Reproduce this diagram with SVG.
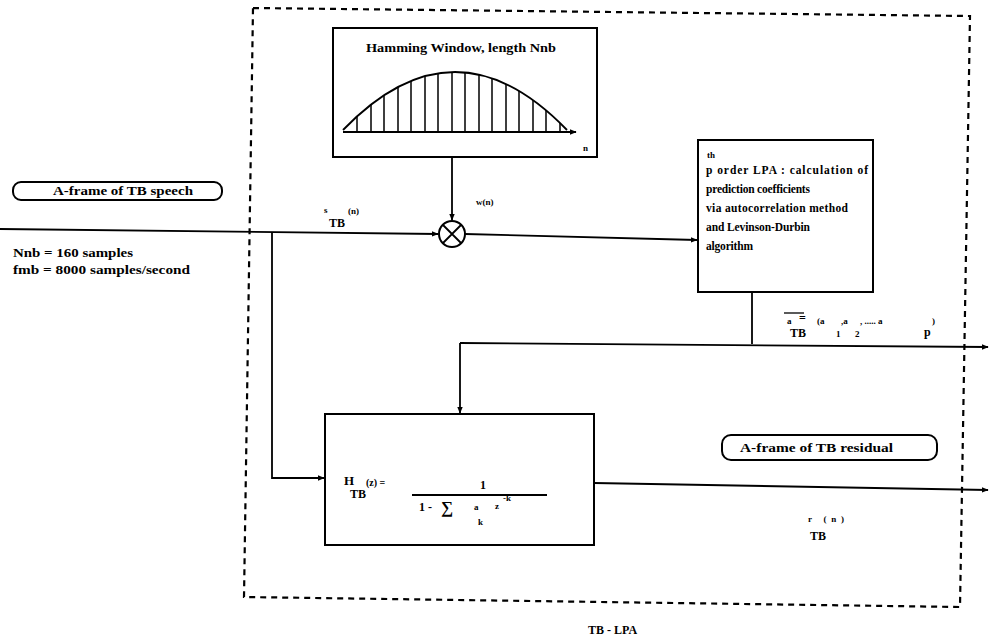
<svg xmlns="http://www.w3.org/2000/svg" width="993" height="642" viewBox="0 0 993 642">
<style>
.ln{stroke:#000;stroke-width:1.8;fill:none}
.bx{stroke:#000;stroke-width:2;fill:#fff}
.t{font-family:"Liberation Serif","Times New Roman",serif;font-weight:bold;font-size:12px;fill:#000}
.s{font-size:9px}
.m{font-size:11.5px}
.dash{stroke:#000;stroke-width:2.2;fill:none;stroke-dasharray:6 5}
</style>
<defs>
<marker id="ar" viewBox="0 0 10 10" refX="9" refY="5" markerWidth="7" markerHeight="7" markerUnits="userSpaceOnUse" orient="auto">
<path d="M0,1 L10,5 L0,9 Z" fill="#000"/>
</marker>
</defs>

<path id="frame" class="dash" d="M253,8 L970,16 L960,607 L244,597 Z"/>

<g id="connectors">
<path class="ln" d="M0,229 L438,234" marker-end="url(#ar)"/>
<path class="ln" d="M452,157 L452,220" marker-end="url(#ar)"/>
<path class="ln" d="M465,234 L697,240" marker-end="url(#ar)"/>
<path class="ln" d="M272,232 L272,478 L324,478" marker-end="url(#ar)"/>
<path class="ln" d="M752,292 L752,344"/>
<path class="ln" d="M460,343 L988,347" marker-end="url(#ar)"/>
<path class="ln" d="M460,343 L460,413" marker-end="url(#ar)"/>
<path class="ln" d="M594,483 L988,490" marker-end="url(#ar)"/>
</g>

<g id="hamming">
<rect class="bx" x="333" y="28" width="264" height="129"/>
<text class="t" x="461" y="52" text-anchor="middle" textLength="190" lengthAdjust="spacingAndGlyphs">Hamming Window, length Nnb</text>
<path class="ln" d="M343,130 Q455,14 567,130"/>
<path class="ln" d="M343,132 L576,132" marker-end="url(#ar)"/>
<path class="ln" style="stroke-width:1.5" d="M357,132V116.4M371,132V104.6M384,132V95.3M398,132V87M411,132V81M425,132V76.2M438,132V73.3M452,132V72M465,132V72.5M479,132V74.7M492,132V78.3M506,132V84M519,132V90.9M533,132V100.1M546,132V110.3M560,132V123"/>
<text class="t s" x="583" y="151">n</text>
</g>

<g id="multiplier">
<circle class="bx" cx="452" cy="234" r="13"/>
<path class="ln" d="M443,225 L461,243 M461,225 L443,243"/>
</g>

<g id="speech-label">
<rect class="bx" x="13" y="182" width="209" height="18" rx="8"/>
<text class="t" x="53" y="195" textLength="140" lengthAdjust="spacingAndGlyphs">A-frame of TB speech</text>
</g>
<text class="t" x="13" y="257" textLength="120" lengthAdjust="spacingAndGlyphs">Nnb = 160 samples</text>
<text class="t" x="13" y="274" textLength="177" lengthAdjust="spacingAndGlyphs">fmb = 8000 samples/second</text>

<g id="sig-labels">
<text class="t s" x="324" y="213">s</text>
<text class="t" x="329" y="227">TB</text>
<text class="t s" x="348" y="214">(n)</text>
<text class="t s" x="476" y="205">w(n)</text>
</g>

<g id="lpa">
<rect class="bx" x="698" y="140" width="175" height="152"/>
<text class="t s" x="707" y="158">th</text>
<text class="t m" x="706" y="174" textLength="162" lengthAdjust="spacing">p  order  LPA : calculation of</text>
<text class="t m" x="706" y="193" textLength="104" lengthAdjust="spacing">prediction coefficients</text>
<text class="t m" x="706" y="212" textLength="142" lengthAdjust="spacing">via autocorrelation method</text>
<text class="t m" x="706" y="231" textLength="104" lengthAdjust="spacing">and Levinson-Durbin</text>
<text class="t m" x="706" y="250" textLength="47" lengthAdjust="spacing">algorithm</text>
</g>

<g id="coef-label">
<path class="ln" style="stroke-width:1.3" d="M784,313 H804"/>
<text class="t s" x="787" y="324">a</text>
<text class="t" x="799" y="322">=</text>
<text class="t" x="790" y="337">TB</text>
<text class="t s" x="817" y="324">(a</text>
<text class="t s" x="836" y="337">1</text>
<text class="t s" x="841" y="324">,a</text>
<text class="t s" x="855" y="337">2</text>
<text class="t s" x="860" y="324">,  .....  a</text>
<text class="t" x="924" y="336">p</text>
<text class="t s" x="932" y="324">)</text>
</g>

<g id="filter">
<rect class="bx" x="325" y="414" width="269" height="131"/>
<text class="t" x="344" y="485" style="font-size:13px">H</text>
<text class="t" x="350" y="498">TB</text>
<text class="t" x="366" y="486" style="font-size:10px">(z) =</text>
<path class="ln" d="M412,495 H547"/>
<text class="t" x="480" y="489">1</text>
<text class="t" x="419" y="511">1  -</text>
<text class="t" x="441" y="513" style="font-size:17px">∑</text>
<text class="t s" x="474" y="510">a</text>
<text class="t s" x="478" y="525">k</text>
<text class="t s" x="495" y="509">z</text>
<text class="t s" x="503" y="501">-k</text>
</g>

<g id="residual-label">
<rect class="bx" x="722" y="435" width="215" height="25" rx="9"/>
<text class="t" x="740" y="452" textLength="153" lengthAdjust="spacingAndGlyphs">A-frame of TB residual</text>
</g>
<text class="t s" x="808" y="522" textLength="36" lengthAdjust="spacing">r   (n)</text>
<text class="t" x="810" y="540">TB</text>

<text class="t" x="588" y="634">TB - LPA</text>
</svg>
